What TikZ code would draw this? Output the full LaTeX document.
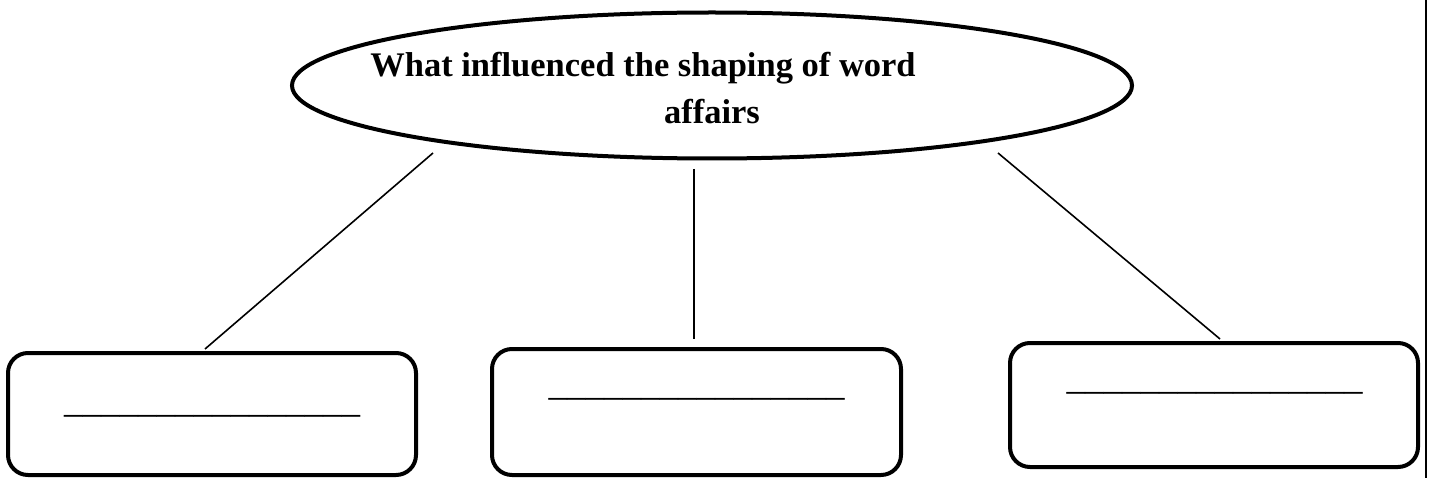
\documentclass[tikz,border=0pt]{standalone}
\usepackage{fontspec}
\setmainfont{Liberation Serif}
\usetikzlibrary{shapes.geometric}
\begin{document}
\begin{tikzpicture}[x=1pt,y=-1pt,
  bubble/.style={ellipse, draw, line width=4pt, minimum width=840pt, minimum height=146pt, inner sep=0pt},
  blankbox/.style={draw, line width=4pt, rounded corners=20pt, inner sep=0pt},
  titletext/.style={font=\fontsize{34.5}{40}\selectfont\bfseries, anchor=base, inner sep=0pt},
  blank/.style={font=\fontsize{37}{44}\selectfont, anchor=base, inner sep=0pt},
  link/.style={line width=1.6pt}]
\useasboundingbox (0,0) rectangle (1429,478);
% title ellipse
\node[bubble] (ell) at (712,85.5) {};
\node[titletext] (t1) at (643,77) {What influenced the shaping of word};
\node[titletext] (t2) at (712,124) {affairs};
% boxes
\node[blankbox, minimum width=408pt, minimum height=122pt] (lbox) at (212,414) {};
\node[blankbox, minimum width=409pt, minimum height=126pt] (mbox) at (696.5,412) {};
\node[blankbox, minimum width=408pt, minimum height=124pt] (rbox) at (1214,405) {};
% blanks
\node[blank] (lb) at (212,412) {\_\_\_\_\_\_\_\_\_\_\_\_\_\_\_\_};
\node[blank] (mb) at (696.5,395) {\_\_\_\_\_\_\_\_\_\_\_\_\_\_\_\_};
\node[blank] (rb) at (1214.5,389) {\_\_\_\_\_\_\_\_\_\_\_\_\_\_\_\_};
% connectors
\coordinate (lt) at (433,153);
\draw[link] (lt) -- ([xshift=199pt,yshift=2pt]lbox.north west);
\coordinate (mt) at (694,169);
\coordinate (mend) at (694,339);
\draw[link, line width=2pt] (mt) -- (mend);
\coordinate (rt) at (998,153);
\draw[link] (rt) -- ([xshift=212pt,yshift=2pt]rbox.north west);
% page edge line
\coordinate (pt) at (1426,0);
\coordinate (pb) at (1426,478);
\draw[line width=2.7pt] (pt) -- (pb);
\end{tikzpicture}
\end{document}
